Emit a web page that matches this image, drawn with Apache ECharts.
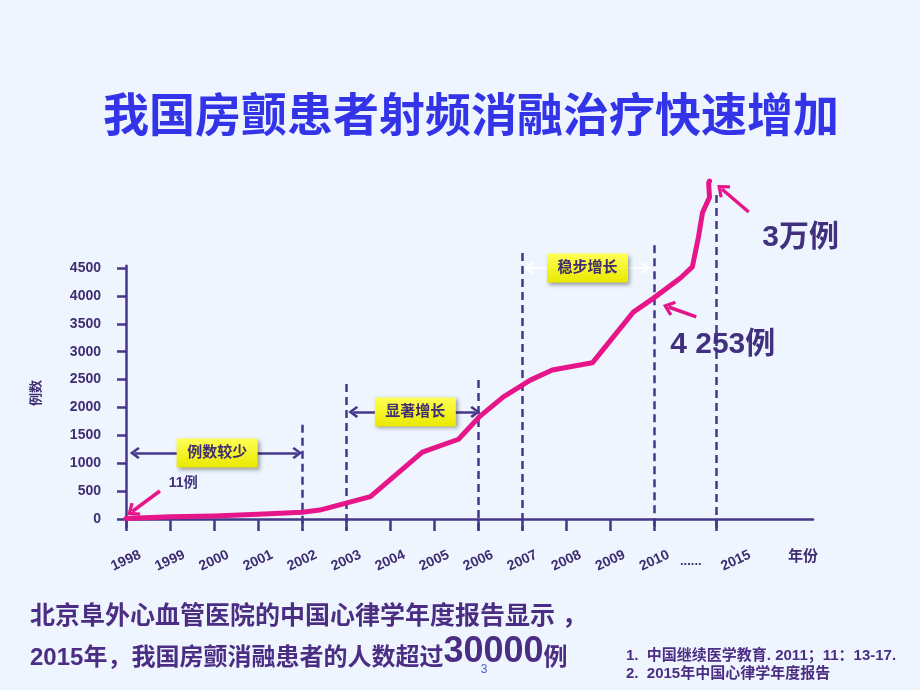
<!DOCTYPE html>
<html><head><meta charset="utf-8">
<script src="https://cdn.jsdelivr.net/npm/echarts@6/dist/echarts.min.js"></script>
<style>html,body{margin:0;padding:0;background:#EEF5FE}#c{width:920px;height:690px}</style>
</head><body><div id="c"></div>
<script>
// ---------- data ----------
const yearLabels = ['1998','1999','2000','2001','2002','2003','2004','2005','2006','2007','2008','2009','2010','2015'];
const yearPos    = [0,1,2,3,4,5,6,7,8,9,10,11,12,13.4];
const yearLabelPos = [0,1,2,3,4,5,6,7,8,9,10,11,12,13.85];
const yTickValues = [0,500,1000,1500,2000,2500,3000,3500,4000,4500];

// case counts along the curve (x = position on year axis)
const caseX = [0, 1, 2, 3, 4, 4.4, 5.55, 6.73, 7.55, 8.02, 8.57, 9.18, 9.68, 10.59, 11.52, 11.98, 12.59, 12.86, 13.0, 13.09, 13.25, 13.23, 13.25];
const caseY = [11, 40, 55, 85, 120, 160, 400, 1200, 1430, 1830, 2190, 2490, 2670, 2800, 3710, 3960, 4320, 4520, 5060, 5490, 5770, 6020, 6060];

// dashed phase separators
const sepX   = [4, 5, 8, 9, 12, 13.4];
const sepTop = [1690, 2420, 2490, 4770, 4910, 5810];
const sepBottom = -200;

// phases
const phaseNames = ['例数较少', '显著增长', '稳步增长'];
const phaseStart = [0.2, 5.16, 9.14];
const phaseEnd   = [3.89, 7.93, 11.8];
const phaseLevel = [1183, 1920, 4500];
const phaseBoxX  = [2.07, 6.57, 10.48];

// callouts
const calloutText = ['11例', '4 253例', '3万例'];
const calloutFrom = [[0.77, 502], [12.95, 3622], [14.14, 5504]];
const calloutTo   = [[0.14, 134], [12.32, 3801], [13.53, 5917]];
const calloutLabelAt = [[1.3, 645], [13.55, 3120], [15.32, 5038]];

// ---------- styles ----------
const PURPLE = '#46378A';
const TXT = '#3F2D72';
const PINK = '#E6168A';
const FONT = "'Liberation Sans','Noto Sans CJK SC',sans-serif";
const CHEV = 'path://M6,0 L12,7 L10.2,8.6 L6,3.6 L1.8,8.6 L0,7 Z';

const chart = echarts.init(document.getElementById('c'), null, {renderer: 'canvas'});

function yearLabel(v) {
  for (let i = 0; i < yearLabelPos.length; i++) if (Math.abs(yearLabelPos[i] - v) < 1e-6) return yearLabels[i];
  return '';
}

const boxStyle = {
  color: new echarts.graphic.LinearGradient(0, 0, 0, 1, [
    {offset: 0, color: '#FFFF55'}, {offset: 1, color: '#E9E900'}]),
  shadowColor: 'rgba(0,0,0,0.35)', shadowBlur: 4, shadowOffsetX: 2, shadowOffsetY: 2
};

const option = {
  backgroundColor: '#EEF5FE',
  animation: false,
  title: {
    text: '我国房颤患者射频消融治疗快速增加',
    left: 98, top: 86,
    textStyle: {fontSize: 46, fontWeight: 'bold', color: '#3333E8', fontFamily: "'Noto Sans CJK SC'"}
  },
  grid: {left: 126, right: 107, top: 128.56, bottom: 115.22},
  xAxis: {
    type: 'value', min: 0, max: 15.6,
    axisLine: {show: true, onZero: true, lineStyle: {color: PURPLE, width: 2.5}},
    axisTick: {show: true, customValues: yearPos, length: 12, lineStyle: {color: PURPLE, width: 2.5}},
    axisLabel: {
      customValues: yearLabelPos, formatter: yearLabel, rotate: 25, align: 'center', verticalAlign: 'middle',
      margin: -14, color: TXT, fontSize: 14, fontWeight: 'bold', fontFamily: FONT, hideOverlap: false
    },
    splitLine: {show: false}
  },
  yAxis: {
    type: 'value', min: -1000, max: 7000,
    axisLine: {show: false},
    axisTick: {show: true, customValues: yTickValues, length: 9, lineStyle: {color: PURPLE, width: 2.5}},
    axisLabel: {customValues: yTickValues, formatter: v => String(v), margin: 25, color: TXT, fontSize: 14, fontWeight: 'bold', fontFamily: FONT},
    splitLine: {show: false}
  },
  series: [
    {
      name: 'cases', type: 'line', z: 5,
      data: caseX.map((x, i) => [x, caseY[i]]),
      symbol: 'none', smooth: false,
      lineStyle: {color: PINK, width: 5, cap: 'round', join: 'round'}
    },
    {
      name: 'separators', type: 'line', data: [], z: 3,
      markLine: {
        silent: true, symbol: ['none', 'none'], label: {show: false},
        lineStyle: {color: PURPLE, width: 2.5, type: [8, 5]},
        data: sepX.map((x, i) => [{coord: [x, sepTop[i]]}, {coord: [x, sepBottom]}])
      }
    },
    {
      name: 'yAxisLine', type: 'line', data: [], z: 4,
      markLine: {
        silent: true, symbol: ['none', 'none'], label: {show: false},
        lineStyle: {color: PURPLE, width: 2.5, type: 'solid'},
        data: [[{coord: [0, -160]}, {coord: [0, 4560]}]]
      }
    },
    {
      name: 'phaseArrowsDark', type: 'line', data: [], z: 6,
      markLine: {
        silent: true, symbol: [CHEV, CHEV], symbolSize: [12, 10], label: {show: false},
        lineStyle: {color: PURPLE, width: 2.5, type: 'solid'},
        data: [0, 1].map(i => [{coord: [phaseStart[i], phaseLevel[i]]}, {coord: [phaseEnd[i], phaseLevel[i]]}])
      }
    },
    {
      name: 'phaseArrowsLight', type: 'line', data: [], z: 6,
      markLine: {
        silent: true, symbol: [CHEV, CHEV], symbolSize: [12, 10], label: {show: false},
        lineStyle: {color: '#FFFFFF', width: 2.2, type: 'solid', opacity: 0.95},
        data: [[{coord: [phaseStart[2], phaseLevel[2]]}, {coord: [phaseEnd[2], phaseLevel[2]]}]]
      },
      markPoint: {
        silent: true, symbol: 'rect', symbolSize: [81, 29],
        itemStyle: boxStyle,
        label: {show: true, position: 'inside', color: TXT, fontSize: 15, fontWeight: 'bold', fontFamily: FONT, formatter: p => p.name},
        data: phaseNames.map((n, i) => ({name: n, coord: [phaseBoxX[i], phaseLevel[i]]}))
      }
    },
    {
      name: 'callouts', type: 'line', data: [], z: 7,
      markLine: {
        silent: true, symbol: ['none', CHEV], symbolSize: [16, 12], label: {show: false},
        lineStyle: {color: PINK, width: 3.5, type: 'solid'},
        data: calloutFrom.map((f, i) => [{coord: f}, {coord: calloutTo[i]}])
      },
      markPoint: {
        silent: true, symbol: 'circle', symbolSize: 1, itemStyle: {color: 'rgba(0,0,0,0)'},
        label: {show: true, position: 'inside', color: '#40307E', fontWeight: 'bold', fontFamily: FONT,
          formatter: p => p.name},
        data: calloutText.map((t, i) => ({name: t, coord: calloutLabelAt[i],
          label: {fontSize: i === 0 ? 14 : 30}}))
      }
    }
  ],
  graphic: [
    {type: 'text', x: 35, y: 393, rotation: Math.PI / 2,
      style: {text: '例数', fill: TXT, font: "bold 13px 'Noto Sans CJK SC'", align: 'center', verticalAlign: 'middle'}},
    {type: 'text', x: 788, y: 555,
      style: {text: '年份', fill: TXT, font: "bold 15px 'Noto Sans CJK SC'", align: 'left', verticalAlign: 'middle'}},
    {type: 'text', x: 680, y: 561,
      style: {text: '......', fill: TXT, font: "bold 13px 'Liberation Sans'", align: 'left', verticalAlign: 'middle'}},
    {type: 'text', x: 30, y: 617,
      style: {text: '北京阜外心血管医院的中国心律学年度报告显示 ，', fill: '#4B2E83',
        font: "bold 25px 'Liberation Sans','Noto Sans CJK SC'", align: 'left', verticalAlign: 'middle'}},
    {type: 'text', x: 30, y: 670,
      style: {
        text: '{a|2015年，我国房颤消融患者的人数超过}{b|30000}{a|例}',
        align: 'left', verticalAlign: 'bottom',
        rich: {
          a: {fill: '#4B2E83', fontSize: 24, fontWeight: 'bold', fontFamily: "'Liberation Sans','Noto Sans CJK SC'", verticalAlign: 'bottom', lineHeight: 30},
          b: {fill: '#4B2E83', fontSize: 36, fontWeight: 'bold', fontFamily: "'Liberation Sans'", verticalAlign: 'bottom', lineHeight: 36}
        }
      }},
    {type: 'text', x: 484, y: 670, z: 10,
      style: {text: '3', fill: '#4A62C8', font: "12px 'Liberation Sans'", align: 'center', verticalAlign: 'middle'}},
    {type: 'text', x: 626, y: 656,
      style: {text: '1.  中国继续医学教育. 2011；11：13-17.', fill: '#4B2E83',
        font: "bold 15px 'Liberation Sans','Noto Sans CJK SC'", align: 'left', verticalAlign: 'middle'}},
    {type: 'text', x: 626, y: 674,
      style: {text: '2.  2015年中国心律学年度报告', fill: '#4B2E83',
        font: "bold 15px 'Liberation Sans','Noto Sans CJK SC'", align: 'left', verticalAlign: 'middle'}}
  ]
};
chart.setOption(option);
</script>
</body></html>
